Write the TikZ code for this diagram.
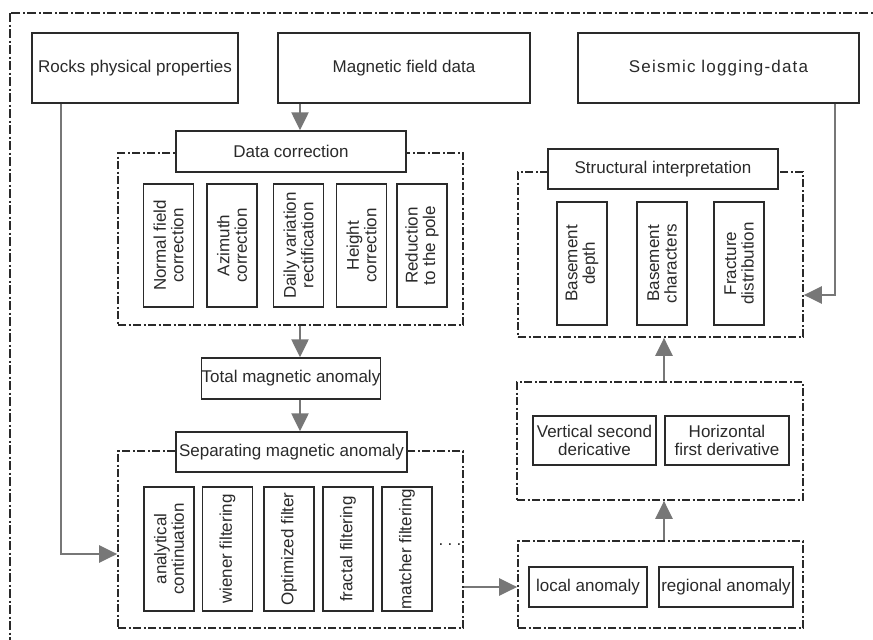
\documentclass[tikz,border=0pt]{standalone}
\usepackage{fontspec}
\setmainfont{Liberation Sans}
\usetikzlibrary{arrows.meta}
\definecolor{ink}{HTML}{2A2A2A}
\definecolor{arr}{HTML}{777777}
\begin{document}
\begin{tikzpicture}[x=1pt,y=-1pt,
 box/.style={draw=ink,line width=1.4pt,fill=white,inner sep=0pt,text=ink,
   font=\fontsize{17}{17.5}\selectfont,align=center},
 vbox/.style={box,rotate=90,minimum width=123pt,minimum height=50pt},
 frame/.style={draw=ink,line width=1.7pt,dash pattern=on 8pt off 2.5pt on 2pt off 2.5pt,inner sep=0pt},
 outer/.style={draw=ink,line width=2.2pt,dash pattern=on 9pt off 2.5pt on 2pt off 2.5pt},
 flow/.style={draw=arr,line width=2.4pt,-{Triangle[length=18pt,width=17pt]}},
]
\useasboundingbox (0,0) rectangle (873,640);
\fill[white] (0,0) rectangle (873,640);
\draw[outer] (10,13) rectangle (885,655);

% frames
\node[frame,minimum width=345pt,minimum height=172pt] (dcf) at (290.5,239) {};
\node[frame,minimum width=345pt,minimum height=177pt] (sepf) at (290.5,539.5) {};
\node[frame,minimum width=285pt,minimum height=165pt] (sif) at (660.5,254.5) {};
\node[frame,minimum width=286pt,minimum height=118pt] (derf) at (660,441) {};
\node[frame,minimum width=285pt,minimum height=87pt] (locf) at (660.5,584.5) {};

% top boxes
\node[box,minimum width=206pt,minimum height=70pt] (rocks) at (135,68) {Rocks physical properties};
\node[box,minimum width=252pt,minimum height=70pt] (mag) at (404,68) {Magnetic field data};
\node[box,minimum width=281pt,minimum height=70pt] (seis) at (718.5,68) {\addfontfeature{LetterSpace=7}Seismic logging-data};

% data correction
\node[box,minimum width=230pt,minimum height=41pt] (dc) at (291,151.5) {Data correction};
\node[vbox] (nf) at (168.5,245.5) {Normal field\\correction};
\node[vbox] (az) at (232,245.5) {Azimuth\\correction};
\node[vbox] (dv) at (298.5,245.5) {Daily variation\\rectification};
\node[vbox] (hc) at (361.5,245.5) {Height\\correction};
\node[vbox] (rp) at (422,245.5) {Reduction\\to the pole};

% total and separating
\node[box,minimum width=176pt,minimum height=41pt] (total) at (291,378.5) {Total magnetic anomaly};
\node[box,minimum width=231pt,minimum height=40pt] (sep) at (291.5,452) {Separating magnetic anomaly};
\node[vbox,minimum width=124pt] (ac) at (169,549) {analytical\\continuation};
\node[vbox,minimum width=124pt] (wf) at (227.5,549) {wiener filtering};
\node[vbox,minimum width=124pt] (of) at (289,549) {Optimized filter};
\node[vbox,minimum width=124pt] (ff) at (348,549) {fractal filtering};
\node[vbox,minimum width=124pt] (mf) at (407,549) {matcher filtering};
\node[text=ink,font=\fontsize{17}{17}\selectfont\addfontfeature{LetterSpace=25}] (dots) at (450,545) {...};

% structural interpretation
\node[box,minimum width=230pt,minimum height=40pt] (si) at (663,169) {Structural interpretation};
\node[vbox] (bd) at (582,263.5) {Basement\\depth};
\node[vbox] (bc) at (662,263.5) {Basement\\characters};
\node[vbox] (fd) at (739,263.5) {Fracture\\distribution};

% derivatives
\node[box,minimum width=123pt,minimum height=49pt] (vsd) at (594.5,440.5) {Vertical second\\dericative};
\node[box,minimum width=124pt,minimum height=49pt] (hfd) at (727,440.5) {Horizontal\\first derivative};

% anomalies
\node[box,minimum width=118pt,minimum height=40pt] (la) at (588,587) {local anomaly};
\node[box,minimum width=134pt,minimum height=40pt] (ra) at (726,587) {regional anomaly};

% connectors
\coordinate (ax) at (300,0);
\coordinate (rk) at (61,554);
\coordinate (sk) at (835,295);
\coordinate (lk) at (0,587);
\coordinate (uk) at (664,0);
\draw[flow] (mag.south -| ax) -- (dc.north -| ax);
\draw[flow] (dcf.south -| ax) -- (total.north -| ax);
\draw[flow] (total.south -| ax) -- (sep.north -| ax);
\draw[flow] (rocks.south -| rk) |- (sepf.west |- rk);
\draw[flow] (seis.south -| sk) |- (sif.east |- sk);
\draw[flow] (sepf.east |- lk) -- (locf.west |- lk);
\draw[flow] (locf.north -| uk) -- (derf.south -| uk);
\draw[flow] (derf.north -| uk) -- (sif.south -| uk);
\end{tikzpicture}
\end{document}
